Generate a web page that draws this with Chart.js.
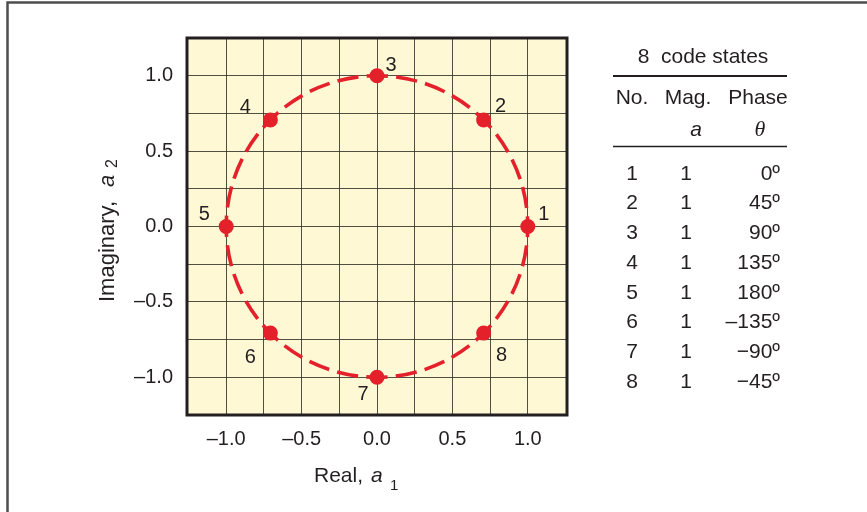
<!DOCTYPE html>
<html>
<head>
<meta charset="utf-8">
<script src="https://cdn.jsdelivr.net/npm/chart.js@4/dist/chart.umd.min.js"></script>
<style>
html,body{margin:0;padding:0;background:#fff;}
canvas{display:block;}
</style>
</head>
<body>
<canvas id="c" width="867" height="512"></canvas>
<script>
// ---- data ----
const stateNo = [1, 2, 3, 4, 5, 6, 7, 8];
const magnitude = [1, 1, 1, 1, 1, 1, 1, 1];
const phaseLabels = ['0º', '45º', '90º', '135º', '180º', '–135º', '−90º', '−45º'];
const realPart = [1.0, 0.707, 0.0, -0.707, -1.0, -0.707, 0.0, 0.707];
const imagPart = [0.0, 0.707, 1.0, 0.707, 0.0, -0.707, -1.0, -0.707];
const gridValues = [-1.0, -0.75, -0.5, -0.25, 0.0, 0.25, 0.5, 0.75, 1.0];
const tickLabelValues = [-1.0, -0.5, 0.0, 0.5, 1.0];
const tableTitle = '8  code states';
const tableHeader = ['No.', 'Mag.', 'Phase'];

// ---- style ----
const RED = '#e4202b';
const SANS = '"Liberation Sans", Arial, sans-serif';
const TEXT = '#231f20';
const labelOffsets = [[16,-12],[17,-13],[14,-10],[-25,-12],[-22,-12],[-20,24],[-14,17],[18,22]];

Chart.defaults.font.family = SANS;
Chart.defaults.font.size = 20;
Chart.defaults.color = TEXT;

function fmt(v){
  const s = Math.abs(v).toFixed(1);
  return v < -1e-9 ? '–' + s : s;
}
function isLabel(v){ return tickLabelValues.some(t => Math.abs(t - v) < 1e-6); }

const decor = {
  id: 'decor',
  beforeDraw(chart){
    const {ctx, chartArea: a} = chart;
    ctx.save();
    ctx.fillStyle = '#fff';
    ctx.fillRect(0, 0, chart.width, chart.height);
    ctx.strokeStyle = '#4d4d4d';
    ctx.lineWidth = 2.5;
    ctx.beginPath();
    ctx.moveTo(chart.width, 2.5);
    ctx.lineTo(7.5, 2.5);
    ctx.lineTo(7.5, chart.height);
    ctx.stroke();
    ctx.fillStyle = '#fef8d5';
    ctx.fillRect(a.left, a.top, a.right - a.left, a.bottom - a.top);
    ctx.restore();
  },
  beforeDatasetsDraw(chart){
    const {ctx, scales: {x, y}} = chart;
    const cx = x.getPixelForValue(0), cy = y.getPixelForValue(0);
    const rx = Math.abs(x.getPixelForValue(magnitude[0]) - cx);
    const ry = Math.abs(y.getPixelForValue(magnitude[0]) - cy);
    const circ = Math.PI * (rx + ry);
    const period = circ / 32;
    const dash = period * 0.72;
    ctx.save();
    ctx.strokeStyle = RED;
    ctx.lineWidth = 3.6;
    ctx.setLineDash([dash, period - dash]);
    ctx.lineDashOffset = dash / 2;
    ctx.beginPath();
    ctx.ellipse(cx, cy, rx, ry, 0, 0, Math.PI * 2);
    ctx.stroke();
    ctx.restore();
  },
  afterDraw(chart){
    const {ctx, chartArea: a} = chart;
    ctx.save();
    ctx.strokeStyle = '#231f20';
    ctx.lineWidth = 3;
    ctx.strokeRect(a.left, a.top, a.right - a.left, a.bottom - a.top);

    // point labels
    const meta = chart.getDatasetMeta(0);
    ctx.fillStyle = TEXT;
    ctx.font = '20px ' + SANS;
    ctx.textAlign = 'center';
    ctx.textBaseline = 'middle';
    meta.data.forEach((pt, i) => {
      const o = labelOffsets[i];
      ctx.fillText(String(stateNo[i]), pt.x + o[0], pt.y + o[1]);
    });

    // x axis title
    ctx.textBaseline = 'alphabetic';
    ctx.textAlign = 'left';
    ctx.font = '21px ' + SANS;
    ctx.fillText('Real,', 314, 482);
    ctx.font = 'italic 21px ' + SANS;
    ctx.fillText('a', 371, 482);
    ctx.font = '15px ' + SANS;
    ctx.fillText('1', 390, 490);

    // y axis title
    ctx.save();
    ctx.translate(114, 302);
    ctx.rotate(-Math.PI / 2);
    ctx.font = '22px ' + SANS;
    ctx.fillText('Imaginary,', 0, 0);
    ctx.font = 'italic 22px ' + SANS;
    ctx.fillText('a', 115, 0);
    ctx.font = '16px ' + SANS;
    ctx.fillText('2', 134, 3);
    ctx.restore();

    // table
    ctx.fillStyle = TEXT;
    ctx.textBaseline = 'middle';
    ctx.font = '21px ' + SANS;
    ctx.textAlign = 'center';
    ctx.fillText(tableTitle, 703, 57);
    ctx.strokeStyle = '#231f20';
    ctx.lineWidth = 2;
    ctx.beginPath(); ctx.moveTo(613, 76); ctx.lineTo(787, 76); ctx.stroke();
    ctx.fillText(tableHeader[0], 632, 98);
    ctx.fillText(tableHeader[1], 688, 98);
    ctx.fillText(tableHeader[2], 758, 98);
    ctx.font = 'italic 21px ' + SANS;
    ctx.fillText('a', 696, 130);
    ctx.font = 'italic 22px "Liberation Serif", "Times New Roman", serif';
    ctx.fillText('θ', 760, 130);
    ctx.lineWidth = 1.6;
    ctx.beginPath(); ctx.moveTo(613, 146.5); ctx.lineTo(787, 146.5); ctx.stroke();
    ctx.font = '21px ' + SANS;
    stateNo.forEach((n, i) => {
      const yy = 174 + i * 29.7;
      ctx.textAlign = 'center';
      ctx.fillText(String(n), 632, yy);
      ctx.fillText(String(magnitude[i]), 686, yy);
      ctx.textAlign = 'right';
      ctx.fillText(phaseLabels[i], 780, yy);
    });
    ctx.restore();
  }
};

new Chart(document.getElementById('c'), {
  type: 'scatter',
  data: {
    datasets: [{
      data: realPart.map((v, i) => ({x: v, y: imagPart[i]})),
      pointRadius: 7.5,
      pointHoverRadius: 7.5,
      pointBackgroundColor: RED,
      pointBorderWidth: 0,
      showLine: false
    }]
  },
  options: {
    responsive: false,
    animation: false,
    events: [],
    layout: {padding: {left: 0, top: 38, right: 300, bottom: 0}},
    plugins: {legend: {display: false}, tooltip: {enabled: false}},
    scales: {
      x: {
        type: 'linear', min: -1.26, max: 1.26,
        afterFit(s){ s.height = 97; },
        afterBuildTicks(s){ s.ticks = gridValues.map(v => ({value: v})); },
        grid: {color: 'rgba(50,48,40,0.85)', lineWidth: 1, drawTicks: false},
        border: {display: false},
        ticks: {padding: 12, maxRotation: 0, autoSkip: false,
          callback: v => isLabel(v) ? fmt(v) : ''}
      },
      y: {
        type: 'linear', min: -1.25, max: 1.25,
        afterFit(s){ s.width = 187; },
        afterBuildTicks(s){ s.ticks = gridValues.map(v => ({value: v})); },
        grid: {color: 'rgba(50,48,40,0.85)', lineWidth: 1, drawTicks: false},
        border: {display: false},
        ticks: {padding: 14, autoSkip: false,
          callback: v => isLabel(v) ? fmt(v) : ''}
      }
    }
  },
  plugins: [decor]
});
</script>
</body>
</html>
